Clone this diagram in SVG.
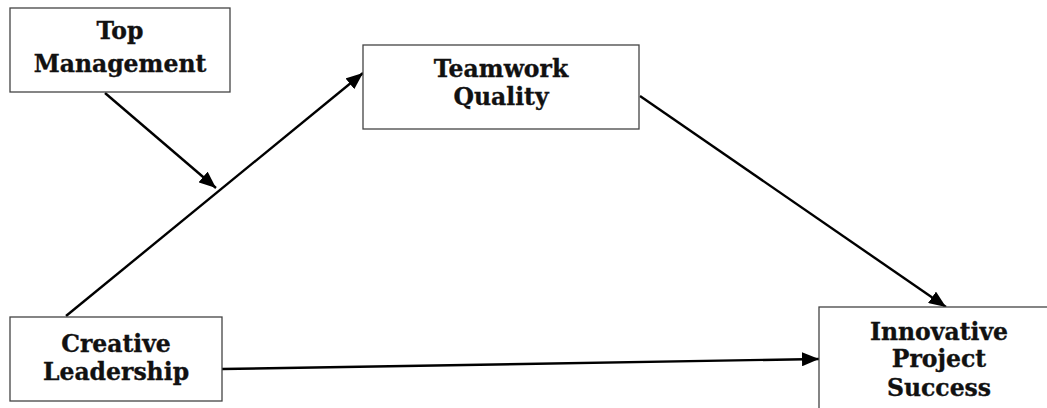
<svg xmlns="http://www.w3.org/2000/svg" width="1047" height="408" viewBox="0 0 1047 408">
  <style>
    .box { fill: #ffffff; stroke: #444444; stroke-width: 1.3; }
    .label { font-family: "DejaVu Serif", "Liberation Serif", serif; font-weight: bold; font-size: 23.5px; fill: #111111; stroke: #111111; stroke-width: 0.35; text-anchor: middle; }
    .edge { stroke: #000000; stroke-width: 2.4; fill: none; marker-end: url(#arrow); }
  </style>
  <defs>
    <marker id="arrow" viewBox="0 0 17 14" refX="17" refY="7" markerWidth="17" markerHeight="14" markerUnits="userSpaceOnUse" orient="auto">
      <path d="M0,0 L17,7 L0,14 Z" fill="#000000"/>
    </marker>
  </defs>
  <rect width="1047" height="408" fill="#ffffff"/>

  <g id="connectors">
    <line class="edge" x1="105" y1="93" x2="216" y2="188"/>
    <line class="edge" x1="66" y1="316" x2="363" y2="73"/>
    <line class="edge" x1="640" y1="96" x2="946" y2="307"/>
    <line class="edge" x1="222" y1="369" x2="819" y2="359"/>
  </g>

  <g id="top-management">
    <rect class="box" x="10" y="8" width="220" height="84"/>
    <text class="label" x="120" y="39">Top</text>
    <text class="label" x="120" y="72">Management</text>
  </g>

  <g id="teamwork-quality">
    <rect class="box" x="363" y="45" width="276" height="84"/>
    <text class="label" x="501" y="77">Teamwork</text>
    <text class="label" x="501" y="105">Quality</text>
  </g>

  <g id="creative-leadership">
    <rect class="box" x="10" y="317" width="212" height="84"/>
    <text class="label" x="116" y="352">Creative</text>
    <text class="label" x="116" y="380">Leadership</text>
  </g>

  <g id="innovative-project-success">
    <rect class="box" x="819" y="307" width="250" height="120"/>
    <text class="label" x="939" y="340">Innovative</text>
    <text class="label" x="939" y="367">Project</text>
    <text class="label" x="939" y="396">Success</text>
  </g>
</svg>
